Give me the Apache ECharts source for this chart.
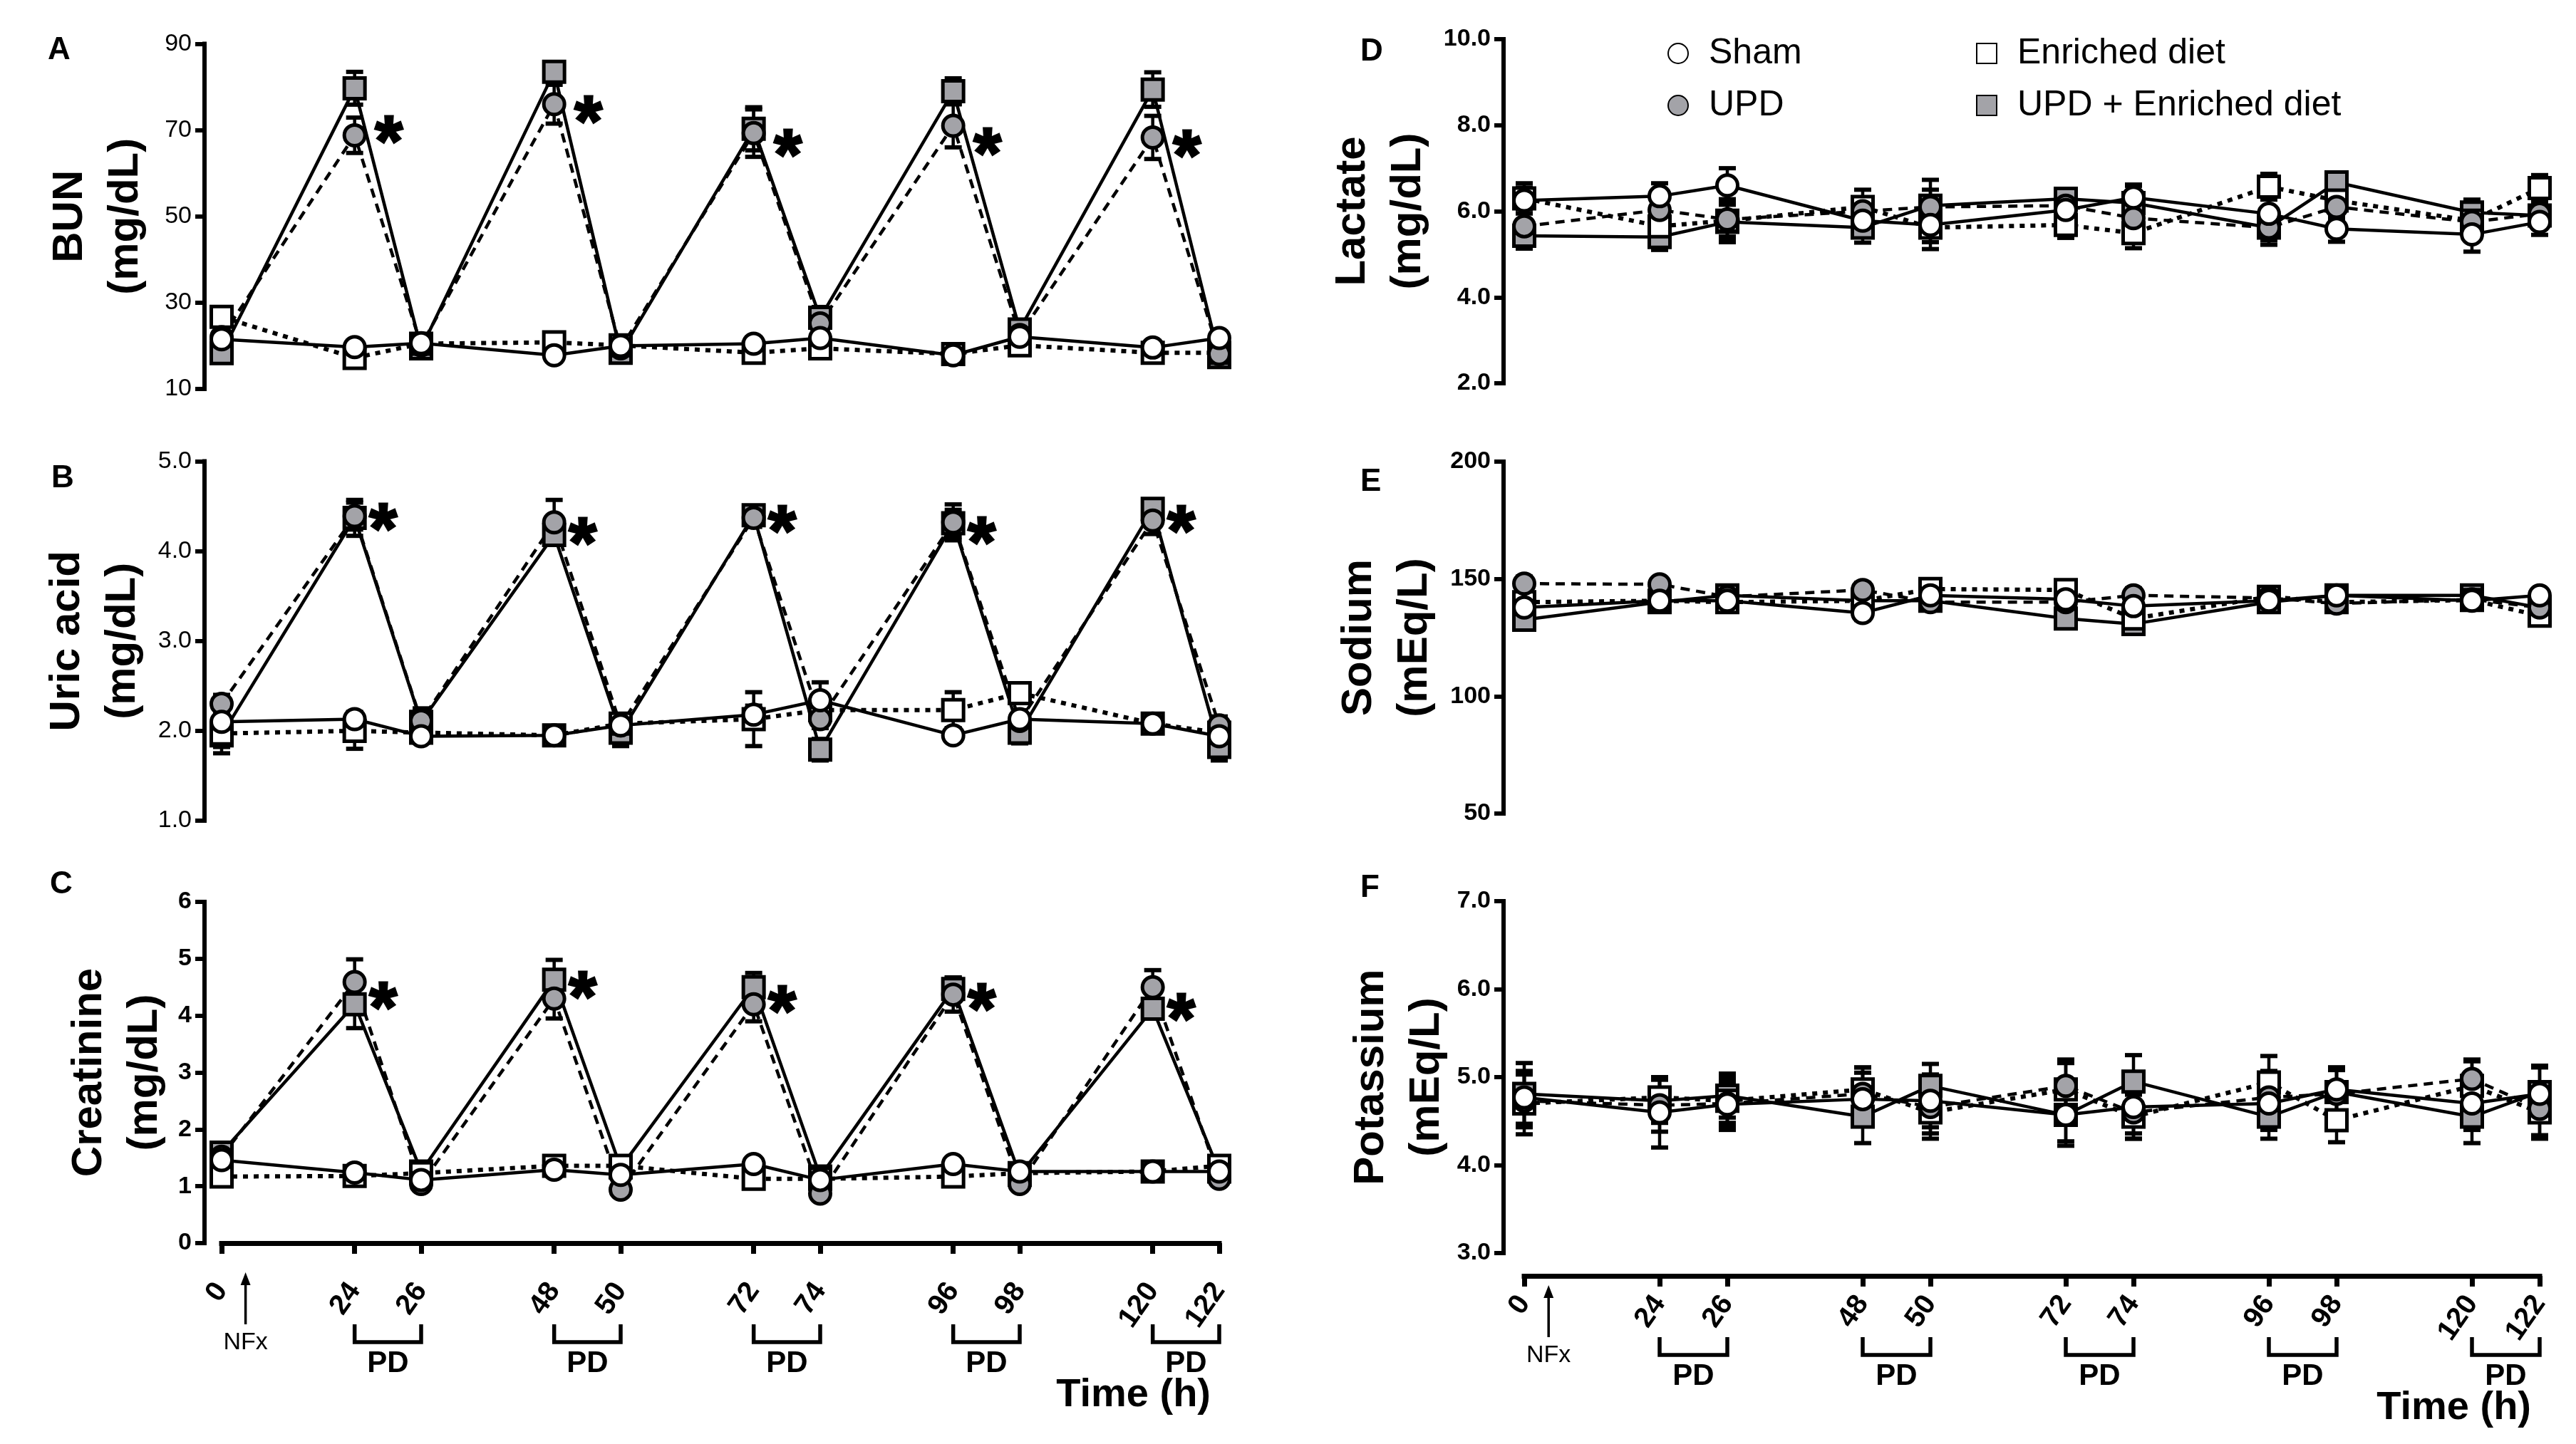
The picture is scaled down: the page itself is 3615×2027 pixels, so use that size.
<!DOCTYPE html>
<html><head><meta charset="utf-8">
<script src="https://cdn.jsdelivr.net/npm/echarts@6/dist/echarts.min.js"></script>
<style>html,body{margin:0;padding:0;background:#fff}#c{width:3615px;height:2027px}</style>
</head><body><div id="c"></div>
<script>
// ---------- DATA ----------
const hours = [0, 24, 26, 48, 50, 72, 74, 96, 98, 120, 122];
const slots = ['0','gap1','24','26','gap2','48','50','gap3','72','74','gap4','96','98','gap5','120','122'];
const pdPairs = [[24,26],[48,50],[72,74],[96,98],[120,122]];
const starHours = [24, 48, 72, 96, 120];

// A: BUN (mg/dL)
const shamA      = [21.5, 19.7, 20.6, 17.8, 20.0, 20.5, 21.8, 17.8, 22.1, 19.6, 21.8];
const shamAErr   = [2.5, 1.5, 1.5, 1.2, 1.5, 1.5, 1.5, 1.2, 1.8, 1.5, 1.5];
const enrA       = [26.7, 17.2, 20.5, 20.8, 20.1, 18.4, 19.4, 18.1, 20.1, 18.4, 18.4];
const enrAErr    = [2.0, 1.8, 1.2, 1.5, 1.2, 1.5, 1.5, 1.2, 1.5, 1.2, 1.2];
const updA       = [22.0, 68.8, 20.1, 76.0, 19.4, 69.3, 25.2, 71.0, 22.5, 68.3, 18.1];
const updAErr    = [2.0, 4.1, 1.5, 4.5, 1.2, 5.5, 2.0, 5.0, 1.5, 5.0, 1.2];
const updEnrA    = [18.3, 79.7, 19.4, 83.5, 18.4, 70.3, 26.5, 79.0, 23.8, 79.4, 17.4];
const updEnrAErr = [2.0, 3.8, 1.5, 1.5, 1.5, 5.0, 2.5, 3.0, 1.5, 4.0, 1.2];
const starA      = [70.3, 75.0, 67.3, 67.6, 67.0];
const ticksA     = [10, 30, 50, 70, 90];

// B: Uric acid (mg/dL)
const shamB      = [2.10, 2.13, 1.94, 1.95, 2.06, 2.18, 2.34, 1.95, 2.13, 2.08, 1.94];
const shamBErr   = [0.10, 0.08, 0.06, 0.05, 0.08, 0.10, 0.20, 0.06, 0.10, 0.10, 0.10];
const enrB       = [1.97, 2.00, 1.98, 1.95, 2.08, 2.13, 2.23, 2.23, 2.42, 2.08, 1.98];
const enrBErr    = [0.15, 0.20, 0.05, 0.05, 0.10, 0.30, 0.10, 0.20, 0.10, 0.10, 0.10];
const updB       = [2.30, 4.39, 2.11, 4.32, 2.06, 4.37, 2.13, 4.32, 2.11, 4.34, 2.06];
const updBErr    = [0.10, 0.15, 0.10, 0.25, 0.10, 0.10, 0.10, 0.20, 0.10, 0.15, 0.10];
const updEnrB    = [1.95, 4.37, 2.10, 4.18, 1.98, 4.40, 1.79, 4.31, 1.98, 4.47, 1.82];
const updEnrBErr = [0.20, 0.20, 0.15, 0.10, 0.15, 0.10, 0.12, 0.15, 0.12, 0.10, 0.15];
const starB      = [4.39, 4.23, 4.37, 4.24, 4.37];
const ticksB     = [1, 2, 3, 4, 5];

// C: Creatinine (mg/dL)
const shamC      = [1.46, 1.24, 1.11, 1.29, 1.20, 1.39, 1.11, 1.39, 1.26, 1.26, 1.26];
const shamCErr   = [0.10, 0.08, 0.08, 0.08, 0.08, 0.08, 0.08, 0.08, 0.08, 0.08, 0.08];
const enrC       = [1.17, 1.18, 1.23, 1.36, 1.36, 1.13, 1.13, 1.17, 1.23, 1.26, 1.36];
const enrCErr    = [0.10, 0.08, 0.08, 0.08, 0.10, 0.10, 0.08, 0.10, 0.08, 0.08, 0.15];
const updC       = [1.52, 4.59, 1.04, 4.30, 0.94, 4.20, 0.87, 4.37, 1.04, 4.50, 1.13];
const updCErr    = [0.15, 0.40, 0.08, 0.35, 0.10, 0.30, 0.08, 0.30, 0.08, 0.30, 0.10];
const updEnrC    = [1.59, 4.20, 1.26, 4.63, 1.33, 4.50, 1.17, 4.47, 1.20, 4.12, 1.26];
const updEnrCErr = [0.15, 0.42, 0.10, 0.35, 0.12, 0.25, 0.10, 0.20, 0.10, 0.15, 0.10];
const starC      = [4.37, 4.56, 4.30, 4.34, 4.17];
const ticksC     = [0, 1, 2, 3, 4, 5, 6];

// D: Lactate (mg/dL)
const shamD      = [6.25, 6.35, 6.60, 5.78, 5.68, 6.03, 6.32, 5.94, 5.59, 5.46, 5.75];
const shamDErr   = [0.30, 0.30, 0.40, 0.35, 0.40, 0.30, 0.30, 0.50, 0.30, 0.40, 0.30];
const enrD       = [6.30, 5.65, 5.78, 6.10, 5.62, 5.68, 5.49, 6.57, 6.25, 5.78, 6.54];
const enrDErr    = [0.35, 0.35, 0.50, 0.40, 0.50, 0.30, 0.35, 0.30, 0.35, 0.40, 0.30];
const updD       = [5.65, 6.03, 5.81, 6.00, 6.10, 6.13, 5.84, 5.62, 6.10, 5.75, 5.94];
const updDErr    = [0.40, 0.30, 0.40, 0.30, 0.40, 0.30, 0.30, 0.40, 0.30, 0.30, 0.30];
const updEnrD    = [5.43, 5.40, 5.75, 5.62, 6.13, 6.29, 6.19, 5.62, 6.67, 5.97, 5.90];
const updEnrDErr = [0.30, 0.30, 0.40, 0.35, 0.60, 0.20, 0.40, 0.30, 0.20, 0.30, 0.30];
const ticksD     = [2, 4, 6, 8, 10];

// E: Sodium (mEq/L)
const shamE      = [137.8, 140.7, 140.7, 135.5, 143.0, 141.3, 138.4, 140.7, 143.0, 140.7, 143.0];
const shamEErr   = [3, 3, 3, 3, 3, 3, 3, 2, 3, 2, 2];
const enrE       = [140.1, 140.7, 140.1, 140.7, 145.7, 145.3, 133.1, 142.4, 140.1, 141.0, 134.3];
const enrEErr    = [3, 3, 3, 3, 3, 4, 3, 3, 3, 3, 3];
const updE       = [148.0, 147.7, 142.4, 145.3, 140.1, 140.1, 143.0, 141.9, 139.5, 141.3, 137.8];
const updEErr    = [3, 2, 3, 3, 3, 3, 3, 3, 3, 3, 3];
const updEnrE    = [132.6, 140.1, 143.0, 140.7, 140.7, 133.1, 130.8, 140.1, 143.0, 143.0, 137.8];
const updEnrEErr = [3, 3, 3, 3, 3, 3, 3, 3, 3, 2, 3];
const ticksE     = [50, 100, 150, 200];

// F: Potassium (mEq/L)
const shamF      = [4.77, 4.60, 4.69, 4.75, 4.73, 4.57, 4.66, 4.70, 4.86, 4.70, 4.81];
const shamFErr   = [0.30, 0.40, 0.25, 0.30, 0.30, 0.30, 0.30, 0.30, 0.25, 0.30, 0.30];
const enrF       = [4.70, 4.77, 4.73, 4.86, 4.60, 4.86, 4.55, 4.94, 4.51, 4.90, 4.60];
const enrFErr    = [0.35, 0.20, 0.25, 0.25, 0.30, 0.30, 0.25, 0.30, 0.25, 0.30, 0.30];
const updF       = [4.73, 4.68, 4.70, 4.81, 4.66, 4.90, 4.60, 4.77, 4.81, 4.98, 4.64];
const updFErr    = [0.30, 0.30, 0.30, 0.30, 0.30, 0.30, 0.30, 0.30, 0.30, 0.20, 0.30];
const updEnrF    = [4.81, 4.73, 4.79, 4.55, 4.90, 4.57, 4.95, 4.55, 4.83, 4.55, 4.83];
const updEnrFErr = [0.35, 0.25, 0.25, 0.30, 0.25, 0.35, 0.30, 0.25, 0.25, 0.30, 0.30];
const ticksF     = [3, 4, 5, 6, 7];

const groupNames = ['UPD + Enriched diet', 'Enriched diet', 'UPD', 'Sham'];

// ---------- STYLE / LAYOUT ----------
const FONT = "'Liberation Sans', Arial, Helvetica, sans-serif";
const GRAY = '#a3a3a8';
const groupStyle = [
  {symbol:'rect',   fill:GRAY,   dash:'solid', width:4.5, z:5},
  {symbol:'rect',   fill:'#fff', dash:[7,8],   width:6,   z:6},
  {symbol:'circle', fill:GRAY,   dash:[13,9],  width:4.5, z:7},
  {symbol:'circle', fill:'#fff', dash:'solid', width:4.5, z:8}
];

const panels = [
  {letter:'A', title:'BUN\n(mg/dL)', ticks:ticksA, dec:0, bold:false, gap:72,
   grid:{left:311, top:61.5, width:1400, height:484.5}, yOff:24,
   vals:[updEnrA, enrA, updA, shamA], errs:[updEnrAErr, enrAErr, updAErr, shamAErr], star:starA, starDx:48},
  {letter:'B', title:'Uric acid\n(mg/dL)', ticks:ticksB, dec:1, bold:false, gap:76,
   grid:{left:311, top:647.5, width:1400, height:504.5}, yOff:24,
   vals:[updEnrB, enrB, updB, shamB], errs:[updEnrBErr, enrBErr, updBErr, shamBErr], star:starB, starDx:40},
  {letter:'C', title:'Creatinine\n(mg/dL)', ticks:ticksC, dec:0, bold:true, gap:45,
   grid:{left:311, top:1266, width:1400, height:479}, yOff:24, xOff:28,
   vals:[updEnrC, enrC, updC, shamC], errs:[updEnrCErr, enrCErr, updCErr, shamCErr], star:starC, starDx:40},
  {letter:'D', title:'Lactate\n(mg/dL)', ticks:ticksD, dec:1, bold:true, gap:95,
   grid:{left:2139, top:55, width:1425, height:483}, yOff:29,
   vals:[updEnrD, enrD, updD, shamD], errs:[updEnrDErr, enrDErr, updDErr, shamDErr]},
  {letter:'E', title:'Sodium\n(mEq/L)', ticks:ticksE, dec:0, bold:true, gap:86,
   grid:{left:2139, top:648, width:1425, height:494}, yOff:29,
   vals:[updEnrE, enrE, updE, shamE], errs:[updEnrEErr, enrEErr, updEErr, shamEErr]},
  {letter:'F', title:'Potassium\n(mEq/L)', ticks:ticksF, dec:1, bold:true, gap:69,
   grid:{left:2139, top:1265, width:1425, height:494}, yOff:29, xOff:32,
   vals:[updEnrF, enrF, updF, shamF], errs:[updEnrFErr, enrFErr, updFErr, shamFErr]}
];
const letterPos = [[81,71],[86,672],[84,1242],[1923,73],[1923,677],[1923,1247]];

// ---------- BUILD ----------
const grids = [], xAxes = [], yAxes = [];
const scatterS = [], lineS = [], errS = [], starS = [];
const isGap = v => String(v).indexOf('gap') === 0;

function errRender(params, api) {
  const lo = api.coord([api.value(0), api.value(1)]);
  const hi = api.coord([api.value(0), api.value(2)]);
  const hw = 12;
  const st = {stroke:'#000', lineWidth:4.5};
  const cs = {stroke:'#000', lineWidth:6};
  return {type:'group', children:[
    {type:'line', shape:{x1:lo[0], y1:lo[1], x2:hi[0], y2:hi[1]}, style:st},
    {type:'line', shape:{x1:lo[0]-hw, y1:lo[1], x2:lo[0]+hw, y2:lo[1]}, style:cs},
    {type:'line', shape:{x1:hi[0]-hw, y1:hi[1], x2:hi[0]+hw, y2:hi[1]}, style:cs}
  ]};
}

panels.forEach((p, i) => {
  grids.push(Object.assign({outerBoundsMode:'none', containLabel:false}, p.grid));
  const showX = p.xOff !== undefined;
  xAxes.push({
    gridIndex:i, type:'category', data:slots, boundaryGap:false, show:showX,
    offset: showX ? p.xOff : 0,
    axisLine:{show:true, lineStyle:{color:'#000', width:7, cap:'square'}},
    axisTick:{show:true, length:15, lineStyle:{color:'#000', width:7},
              interval:(idx, v) => !isGap(v)},
    axisLabel:{show:true, interval:(idx, v) => !isGap(v), rotate:55, margin:32,
               formatter:v => isGap(v) ? '' : v,
               fontFamily:FONT, fontSize:40, fontWeight:'bold', color:'#000'},
    splitLine:{show:false}
  });
  const t = p.ticks;
  const step = t[1] - t[0];
  const yAx = {
    gridIndex:i, type:'value', min:t[0], max:t[t.length-1], offset:p.yOff,
    axisLine:{show:true, lineStyle:{color:'#000', width:6, cap:'square'}},
    axisTick:{show:true, length:13, lineStyle:{color:'#000', width:6}, customValues:t},
    axisLabel:{show:true, margin:18, customValues:t, fontFamily:FONT, fontSize:34,
               fontWeight:p.bold ? 'bold' : 'normal', color:'#000',
               formatter:v => Number(v).toFixed(p.dec)},
    splitLine:{show:false},
    name:p.title, nameLocation:'middle', nameRotate:90, nameGap:p.gap, nameMoveOverlap:false,
    nameTextStyle:{fontFamily:FONT, fontSize:60, fontWeight:'bold', color:'#000', lineHeight:78}
  };
  if (t[0] % step === 0) yAx.interval = step;
  yAxes.push(yAx);

  groupNames.forEach((gName, g) => {
    const gs = groupStyle[g];
    const vals = p.vals[g], errs = p.errs[g];
    const pairs = hours.map((h, k) => [String(h), vals[k]]);
    scatterS.push({
      type:'scatter', name:gName, xAxisIndex:i, yAxisIndex:i, data:pairs,
      symbol:gs.symbol, symbolSize:29, z:gs.z,
      itemStyle:{color:gs.fill, borderColor:'#000', borderWidth:5, opacity:1},
      emphasis:{disabled:true}
    });
    lineS.push({
      type:'line', name:gName, xAxisIndex:i, yAxisIndex:i, data:pairs,
      symbol:'none', z:3,
      lineStyle:{color:'#000', width:gs.width, type:gs.dash},
      itemStyle:{color:gs.fill, borderColor:'#000'},
      emphasis:{disabled:true}
    });
    errS.push({
      type:'custom', name:gName, xAxisIndex:i, yAxisIndex:i,
      data:hours.map((h, k) => [String(h), vals[k] - errs[k], vals[k] + errs[k]]),
      encode:{x:0, y:[1,2]}, renderItem:errRender, z:2, silent:true
    });
  });
  if (p.star) {
    starS.push({
      type:'scatter', name:'sig' + p.letter, xAxisIndex:i, yAxisIndex:i,
      data:starHours.map((h, k) => [String(h), p.star[k]]),
      symbolSize:1, itemStyle:{color:'rgba(255,255,255,0)', opacity:1}, z:10, silent:true,
      emphasis:{disabled:true},
      label:{show:true, position:'inside', formatter:'*', offset:[p.starDx, 24],
             fontFamily:FONT, fontSize:100, fontWeight:'bold', color:'#000', opacity:1,
             textBorderColor:'#000', textBorderWidth:3}
    });
  }
});

const legendBase = {
  orient:'vertical', top:42, itemWidth:28, itemHeight:28, itemGap:17, selectedMode:false,
  textStyle:{fontFamily:FONT, fontSize:50, color:'#000', lineHeight:56, padding:[0,0,0,24]}
};

const chart = echarts.init(document.getElementById('c'), null, {renderer:'canvas'});
chart.setOption({
  animation:false,
  backgroundColor:'#fff',
  textStyle:{fontFamily:FONT},
  grid:grids, xAxis:xAxes, yAxis:yAxes,
  legend:[
    Object.assign({}, legendBase, {left:2335, data:['Sham','UPD']}),
    Object.assign({}, legendBase, {left:2768, data:['Enriched diet','UPD + Enriched diet']})
  ],
  series:[].concat(scatterS, lineS, errS, starS)
});

// ---------- ANNOTATIONS (positions from the axes) ----------
const graphics = [];
panels.forEach((p, i) => {
  graphics.push({type:'text', left:letterPos[i][0]-14, top:letterPos[i][1]-22,
    style:{text:p.letter, font:'bold 44px ' + FONT, fill:'#000'}});
});
[2, 5].forEach(gi => {
  const p = panels[gi];
  const px = h => chart.convertToPixel({xAxisIndex:gi}, slots.indexOf(String(h)));
  const bottom = chart.convertToPixel({yAxisIndex:gi}, p.ticks[0]);
  const axisY = bottom + p.xOff;
  pdPairs.forEach(pr => {
    const x1 = px(pr[0]), x2 = px(pr[1]);
    graphics.push({type:'polyline', shape:{points:[[x1, axisY+86],[x1, axisY+111],[x2, axisY+111],[x2, axisY+86]]},
      style:{stroke:'#000', lineWidth:5.5, fill:null}});
    graphics.push({type:'text', x:(x1+x2)/2, y:axisY+141,
      style:{text:'PD', font:'bold 42px ' + FONT, fill:'#000', align:'center', verticalAlign:'middle'}});
  });
  const x0 = px(0), x24 = px(24);
  const ax = x0 + 0.36 * (x24 - x0) / 2;
  graphics.push({type:'line', shape:{x1:ax, y1:axisY+26, x2:ax, y2:axisY+86}, style:{stroke:'#000', lineWidth:3.5}});
  graphics.push({type:'polygon', shape:{points:[[ax, axisY+13],[ax-7, axisY+31],[ax+7, axisY+31]]}, style:{fill:'#000'}});
  graphics.push({type:'text', x:ax, y:axisY+112,
    style:{text:'NFx', font:'34px ' + FONT, fill:'#000', align:'center', verticalAlign:'middle'}});
  graphics.push({type:'text', x:px(122) - 12, y:axisY+186,
    style:{text:'Time (h)', font:'bold 56px ' + FONT, fill:'#000', align:'right', verticalAlign:'middle'}});
});
chart.setOption({graphic:graphics});
</script>
</body></html>
